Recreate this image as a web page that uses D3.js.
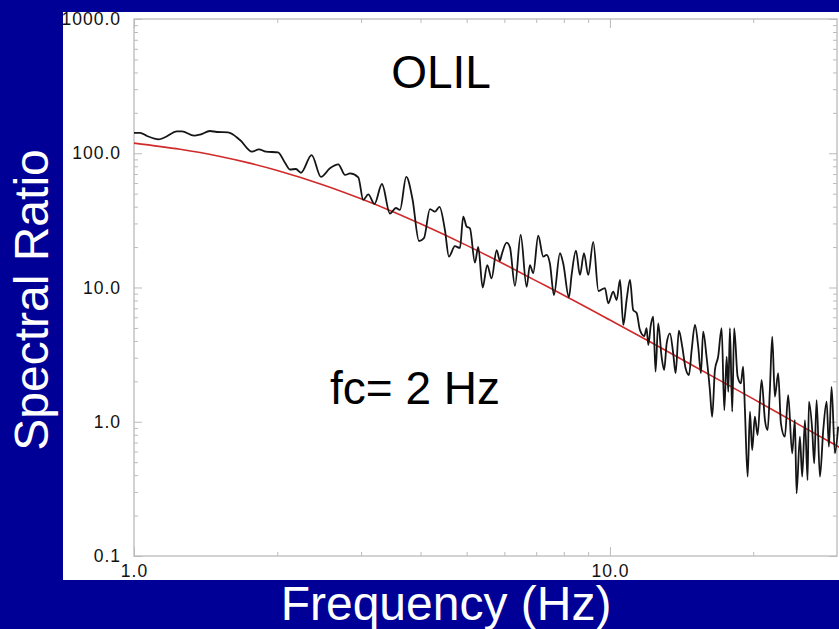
<!DOCTYPE html>
<html>
<head>
<meta charset="utf-8">
<script src="https://cdn.jsdelivr.net/npm/d3@7"></script>
<style>
    body { margin: 0; background: #000096; }
    svg { display: block; }
    .axis text { font-family: "Liberation Sans", Arial, Helvetica, sans-serif; font-size: 17.5px; letter-spacing: 1px; fill: #111; }
    .axis line { stroke: #bbb; }
    .axis path { stroke: none; }
    .big { font-family: "Liberation Sans", Arial, Helvetica, sans-serif; font-size: 46px; }
    .axis-title { font-family: "Liberation Sans", Arial, Helvetica, sans-serif; font-size: 48px; }
</style>
</head>
<body>
<div id="chart"></div>
<script>
let freq = [1.00, 1.03, 1.065, 1.128, 1.162, 1.231, 1.261, 1.337, 1.376, 1.444, 1.494, 1.576, 1.670, 1.770, 1.830,
    1.894, 2.007, 2.076, 2.127, 2.189, 2.243, 2.362, 2.471, 2.581, 2.687, 2.776, 2.844, 2.960, 3.032, 3.106,
    3.201, 3.319, 3.450, 3.551, 3.621, 3.733, 3.847, 3.970, 4.067, 4.186, 4.290, 4.384, 4.501, 4.589, 4.724,
    4.840, 4.918, 5.000, 5.080, 5.204, 5.288, 5.402, 5.523, 5.642, 5.781, 5.874, 5.922, 6.067, 6.165, 6.316,
    6.493, 6.683, 6.790, 6.900, 7.069, 7.242, 7.362, 7.480, 7.627, 7.852, 7.978, 8.201, 8.308, 8.484, 8.650,
    8.820, 9.004, 9.224, 9.46, 9.761, 9.918, 10.16, 10.33, 10.50, 10.67, 10.84, 11.02, 11.19, 11.38, 11.56,
    11.81, 11.94, 12.04, 12.19, 12.33, 12.47, 12.63, 12.84, 13.00, 13.16, 13.37, 13.58, 13.74, 13.96, 14.19,
    14.42, 14.66, 14.85, 15.09, 15.33, 15.53, 15.70, 15.96, 16.22, 16.40, 16.62, 16.88, 17.17, 17.39, 17.59,
    17.73, 17.87, 18.07, 18.24, 18.55, 18.84, 19.05, 19.21, 19.47, 19.69, 19.90, 20.16, 20.43, 20.83, 21.17,
    21.45, 21.68, 21.93, 22.21, 22.57, 22.87, 23.31, 23.69, 24.15, 24.47, 24.67, 25.07, 25.35, 25.69, 26.02,
    26.19, 26.61, 26.87, 27.18, 27.62, 28.07, 28.53, 28.85, 29.22, 29.70, 30.17];
let ratio = [142, 142, 134.5, 127, 131.5, 145.7, 145.7, 135.2, 137.5, 146.5, 144, 143.2, 125.5, 102.7, 107,
    102.7, 101.6, 85.0, 75.7, 76.3, 71.6, 97.0, 66.6, 77.2, 82.5, 68.9, 70.7, 66.2, 44.9, 49.4,
    42.0, 59.0, 35.5, 39.1, 37.8, 66.6, 45.6, 22.2, 23.3, 38.4, 36.7, 39.8, 26.8, 17.0, 20.3,
    19.7, 33.7, 28.4, 27.6, 15.3, 20.1, 10.0, 14.7, 11.7, 19.0, 15.8, 17.5, 21.6, 19.9, 10.3,
    24.6, 10.1, 14.7, 12.8, 24.3, 17.0, 17.5, 15.1, 8.79, 18.0, 15.1, 8.45, 12.4, 18.8, 12.4,
    18.0, 12.4, 21.9, 9.42, 9.91, 7.63, 9.30, 8.07, 11.4, 5.26, 8.07, 11.4, 6.80, 6.46, 4.83,
    4.35, 4.99, 3.73, 5.26, 6.06, 2.36, 5.41, 3.05, 2.43, 3.84, 4.56, 3.24, 2.30, 4.77, 3.62,
    2.50, 2.23, 3.42, 5.26, 3.62, 2.30, 4.69, 3.05, 1.72, 1.09, 2.43, 3.05, 4.97, 1.22, 3.05,
    1.67, 4.97, 1.19, 4.97, 2.17, 1.93, 2.57, 1.26, 0.390, 1.19, 0.616, 1.09, 0.797, 2.05, 1.03,
    0.868, 1.72, 4.30, 1.54, 2.30, 0.974, 0.774, 1.58, 0.582, 1.03, 0.293, 0.774, 0.390, 1.03, 0.368,
    1.41, 0.868, 0.490, 1.45, 0.390, 0.868, 1.41, 0.652, 1.82, 0.582, 0.919];

// fitted model (red)
let fitFreq = [1, 1.25, 1.5, 1.75, 2, 2.5, 3, 3.5, 4, 5, 6, 7, 8, 10, 12, 15, 20, 25, 30.5];
let fitRatio = [119, 107, 95.4, 84.4, 74.5, 58.1, 45.8, 36.7, 29.8, 20.6, 14.9, 11.2, 8.76, 5.73, 4.03, 2.60, 1.48, 0.948, 0.64];

let xTickValues = [1, 10];
let xTickLabels = ["1.0", "10.0"];
let yTickValues = [0.1, 1, 10, 100, 1000];
let yTickLabels = ["0.1", "1.0", "10.0", "100.0", "1000.0"];

let title = "OLIL";
let note = "fc= 2 Hz";

let width = 839, height = 629;
let plot = {left: 134, right: 837, top: 19, bottom: 556};

let svg = d3.select("#chart").append("svg")
    .attr("width", width)
    .attr("height", height);

svg.append("rect")
    .attr("width", width).attr("height", height)
    .attr("fill", "#000096");

// white panel
svg.append("rect")
    .attr("x", 63).attr("y", 12)
    .attr("width", width - 63).attr("height", 580 - 12)
    .attr("fill", "#fff");

let x = d3.scaleLog().domain([1, 30]).range([plot.left, plot.right]);
let y = d3.scaleLog().domain([0.1, 1000]).range([plot.bottom, plot.top]);

let minorX = [2, 3, 4, 5, 6, 7, 8, 9, 20];
let minorY = [0.1, 1, 10, 100].flatMap(d => [2, 3, 4, 5, 6, 7, 8, 9].map(m => d * m));

// frame
svg.append("rect")
    .attr("x", plot.left).attr("y", plot.top)
    .attr("width", plot.right - plot.left).attr("height", plot.bottom - plot.top)
    .attr("fill", "none")
    .attr("stroke", "#c4c4c4")
    .attr("stroke-width", 1.5);

function addAxis(axis, tx, ty) {
    svg.append("g")
        .attr("class", "axis")
        .attr("transform", "translate(" + tx + "," + ty + ")")
        .call(axis);
}

// major ticks with labels
addAxis(d3.axisLeft(y).tickValues(yTickValues).tickSizeInner(-8).tickSizeOuter(0).tickPadding(13)
    .tickFormat((d, i) => yTickLabels[i]), plot.left, 0);
addAxis(d3.axisBottom(x).tickValues(xTickValues).tickSizeInner(-9).tickSizeOuter(0).tickPadding(9)
    .tickFormat((d, i) => xTickLabels[i]), 0, plot.bottom);
addAxis(d3.axisRight(y).tickValues(yTickValues).tickSizeInner(-8).tickSizeOuter(0).tickFormat(""), plot.right, 0);
addAxis(d3.axisTop(x).tickValues(xTickValues).tickSizeInner(-9).tickSizeOuter(0).tickFormat(""), 0, plot.top);

// minor ticks
addAxis(d3.axisLeft(y).tickValues(minorY).tickSizeInner(-4).tickSizeOuter(0).tickFormat(""), plot.left, 0);
addAxis(d3.axisRight(y).tickValues(minorY).tickSizeInner(-4).tickSizeOuter(0).tickFormat(""), plot.right, 0);
addAxis(d3.axisBottom(x).tickValues(minorX).tickSizeInner(-4).tickSizeOuter(0).tickFormat(""), 0, plot.bottom);
addAxis(d3.axisTop(x).tickValues(minorX).tickSizeInner(-4).tickSizeOuter(0).tickFormat(""), 0, plot.top);

// lines
let obs = freq.map((f, i) => ({f: f, r: ratio[i]}));
let fit = fitFreq.map((f, i) => ({f: f, r: fitRatio[i]}));

let line = d3.line()
    .x(d => x(d.f))
    .y(d => y(d.r))
    .curve(d3.curveMonotoneX);

svg.append("path")
    .datum(fit)
    .attr("d", line)
    .attr("fill", "none")
    .attr("stroke", "#d02a2a")
    .attr("stroke-width", 1.6);

svg.append("path")
    .datum(obs)
    .attr("d", line)
    .attr("fill", "none")
    .attr("stroke", "#151515")
    .attr("stroke-width", 1.8)
    .attr("stroke-linejoin", "round");

// texts
svg.append("text")
    .attr("class", "big")
    .attr("x", 441).attr("y", 88)
    .attr("text-anchor", "middle")
    .attr("fill", "#000")
    .text(title);

svg.append("text")
    .attr("class", "big")
    .attr("x", 415).attr("y", 404)
    .attr("text-anchor", "middle")
    .attr("fill", "#000")
    .text(note);

svg.append("text")
    .attr("class", "axis-title")
    .attr("transform", "translate(48,300) rotate(-90)")
    .attr("text-anchor", "middle")
    .attr("fill", "#fff")
    .text("Spectral Ratio");

svg.append("text")
    .attr("class", "axis-title")
    .attr("x", 446).attr("y", 620)
    .attr("text-anchor", "middle")
    .attr("fill", "#fff")
    .text("Frequency (Hz)");
</script>
</body>
</html>
